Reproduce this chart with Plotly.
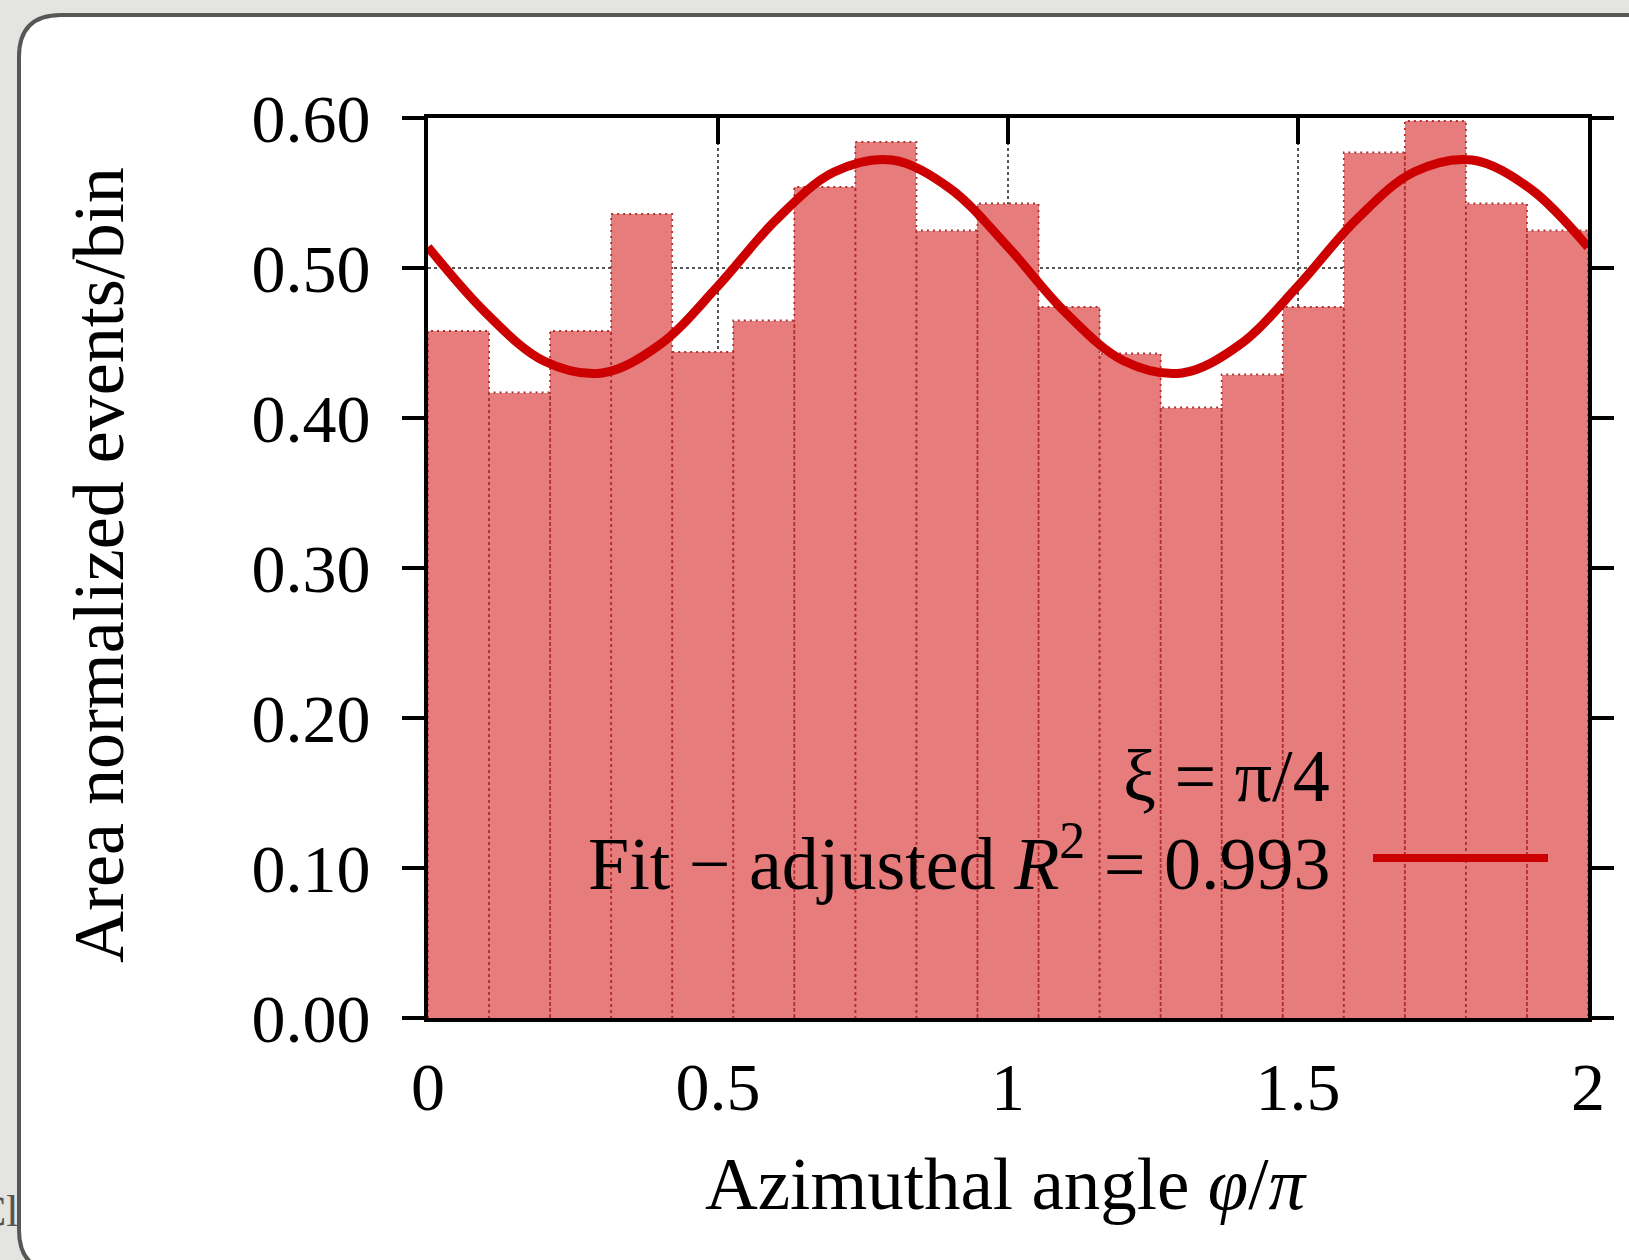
import plotly.graph_objects as go

# ---------------- data ----------------
bin_values = [0.458, 0.417, 0.458, 0.536, 0.444, 0.465, 0.554, 0.584, 0.525, 0.543,
              0.474, 0.443, 0.407, 0.429, 0.474, 0.577, 0.598, 0.543, 0.525]
x_min, x_max = 0.0, 2.0

fit_x = [0.0, 0.1, 0.2, 0.3, 0.4, 0.5, 0.6, 0.7, 0.8, 0.9, 1.0,
         1.1, 1.2, 1.3, 1.4, 1.5, 1.6, 1.7, 1.8, 1.9, 2.0]
fit_y = [0.514, 0.470, 0.438, 0.430, 0.449, 0.488, 0.532, 0.564, 0.572, 0.553, 0.514,
         0.470, 0.438, 0.430, 0.449, 0.488, 0.532, 0.564, 0.572, 0.553, 0.514]

x_tickvals = [0, 0.5, 1, 1.5, 2]
x_ticktext = ["0", "0.5", "1", "1.5", "2"]
y_tickvals = [0.0, 0.1, 0.2, 0.3, 0.4, 0.5, 0.6]
y_ticktext = ["0.00", "0.10", "0.20", "0.30", "0.40", "0.50", "0.60"]

legend_title = "ξ = π/4"
legend_label = "Fit − adjusted <i>R</i><sup>2</sup> = 0.993"
x_title = "Azimuthal angle <i>φ</i>/<i>π</i>"
y_title = "Area normalized events/bin"

# ---------------- layout geometry (pixels) ----------------
W, H = 1629, 1260
PL, PR, PT, PB = 428, 1588, 118, 1018


def px(xp):
    return (xp - PL) / (PR - PL)


def py(yp):
    return (PB - yp) / (PB - PT)


FONT = "Liberation Serif"
BAR_COLOR = "#E77C7C"
EDGE_COLOR = "#b02e2e"
FIT_COLOR = "#CC0000"

n = len(bin_values)
bw = (x_max - x_min) / n
centers = [x_min + bw * (i + 0.5) for i in range(n)]

# outline path of bars (dotted)
ox, oy = [], []
for c, v in zip(centers, bin_values):
    x0, x1 = c - bw / 2, c + bw / 2
    ox += [x0, x0, x1, x1, None]
    oy += [0, v, v, 0, None]

fig = go.Figure()
fig.add_trace(go.Bar(x=centers, y=bin_values, width=bw, marker=dict(color=BAR_COLOR, line=dict(width=0)),
                     showlegend=False, hoverinfo="skip"))
fig.add_trace(go.Scatter(x=ox, y=oy, mode="lines", line=dict(color=EDGE_COLOR, width=1.8, dash="2px,4px"),
                         showlegend=False, hoverinfo="skip"))
fig.add_trace(go.Scatter(x=fit_x, y=fit_y, mode="lines", line=dict(color=FIT_COLOR, width=9, shape="spline"),
                         showlegend=False))
# dummy trace to activate top axis
fig.add_trace(go.Scatter(x=[None], y=[None], xaxis="x2", showlegend=False, hoverinfo="skip"))

fig.update_layout(
    width=W, height=H,
    margin=dict(l=PL, r=W - PR, t=PT, b=H - PB, pad=0),
    paper_bgcolor="#e4e4e1",
    plot_bgcolor="white",
    bargap=0,
    showlegend=False,
    font=dict(family=FONT, color="black", size=68),
    xaxis=dict(range=[x_min, x_max], tickvals=x_tickvals, ticktext=x_ticktext,
               showgrid=True, gridcolor="#555", griddash="dot", gridwidth=1.5,
               showline=True, linecolor="black", linewidth=4, mirror=True,
               ticks="", ticklabelstandoff=6, zeroline=False,
               tickfont=dict(size=68, family=FONT)),
    xaxis2=dict(range=[x_min, x_max], overlaying="x", side="top", tickvals=[0.5, 1, 1.5],
                ticks="inside", ticklen=26, tickwidth=4, tickcolor="black",
                showticklabels=False, showgrid=False, showline=False, zeroline=False),
    yaxis=dict(range=[0, 0.6], tickvals=y_tickvals, ticktext=y_ticktext,
               showgrid=True, gridcolor="#555", griddash="dot", gridwidth=1.5,
               showline=True, linecolor="black", linewidth=4, mirror="all",
               ticks="outside", ticklen=22, tickwidth=4, tickcolor="black",
               ticklabelstandoff=18, zeroline=False,
               tickfont=dict(size=68, family=FONT)),
)

# card background: white rounded rectangle with dark border
r = 42
L, T, R_, B = 19, 15, 1700, 1272
path = (f"M {px(L)},{py(T + r)} "
        f"Q {px(L)},{py(T)} {px(L + r)},{py(T)} "
        f"L {px(R_)},{py(T)} L {px(R_)},{py(B)} "
        f"L {px(L + r)},{py(B)} "
        f"Q {px(L)},{py(B)} {px(L)},{py(B - r)} Z")
fig.add_shape(type="path", path=path, xref="paper", yref="paper", layer="below",
              fillcolor="white", line=dict(color="#575757", width=4))

# legend sample line
fig.add_shape(type="line", xref="paper", yref="paper", x0=px(1373), x1=px(1548), y0=py(858), y1=py(858),
              line=dict(color=FIT_COLOR, width=8), layer="above")

ann = [
    dict(text=y_title, x=px(99), y=py(565), textangle=-90, xanchor="center", yanchor="middle",
         font=dict(size=72)),
    dict(text=x_title, x=px(1006), y=py(1184), xanchor="center", yanchor="middle", font=dict(size=73)),
    dict(text=legend_title, x=px(1332), y=py(776), xanchor="right", yanchor="middle", font=dict(size=74)),
    dict(text=legend_label, x=px(1332), y=py(858), xanchor="right", yanchor="middle", font=dict(size=74)),
    dict(text="Cl", x=px(21), y=py(1211), xanchor="right", yanchor="middle",
         font=dict(size=44, color="#555")),
]
for a in ann:
    a.update(xref="paper", yref="paper", showarrow=False)
    fig.add_annotation(**a)

fig.write_html("out.html")
